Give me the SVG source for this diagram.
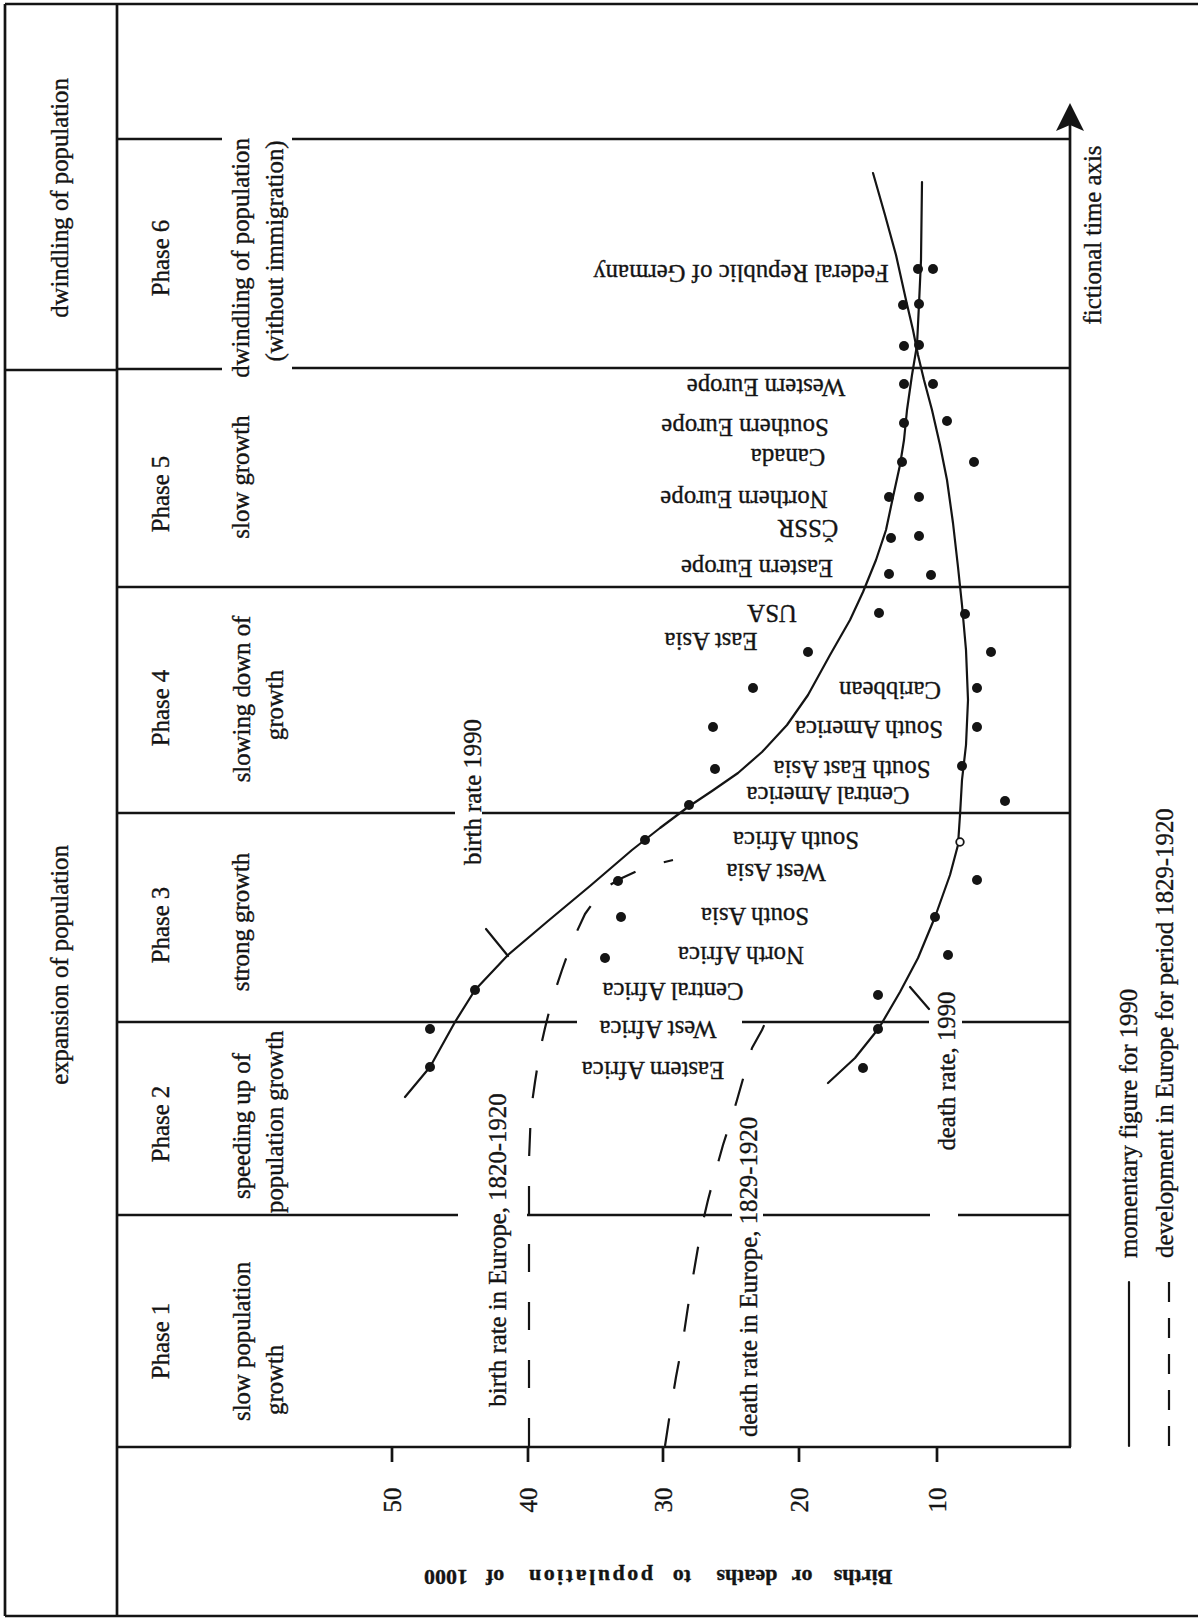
<svg xmlns="http://www.w3.org/2000/svg" width="1198" height="1619" viewBox="0 0 1198 1619">
<style>
.ln{stroke:#141414;stroke-width:2.7;fill:none}
.cv{stroke:#141414;stroke-width:2.2;fill:none;stroke-linejoin:round;stroke-linecap:round}
.ds{stroke-dasharray:28 30;stroke-linecap:butt}
.t{font-family:"Liberation Serif","Times New Roman",serif;font-size:24.8px;fill:#141414;stroke:#141414;stroke-width:0.35}
.m{text-anchor:middle}
.s{text-anchor:start}
.d{fill:#141414}
</style>
<rect width="1198" height="1619" fill="#ffffff"/>
<g id="frame">
<path class="ln" stroke-width="3" d="M5,4 H1198 M5,1616 H1198 M5,4 V1616 M117,4 V1616 M5,370 H117"/>
<path class="ln" d="M117,139 H222 M292,139 H1070 M117,369 H222 M292,368 H1070 M117,587 H1070 M117,813 H455 M482,813 H1070 M117,1022 H577 M742,1022 H929 M962,1022 H1070 M117,1215 H458 M527,1215 H732 M763,1215 H930 M958,1215 H1071 M117,1447 H1071 M1070,125 V1447"/>
<path class="d" d="M1070,103 L1084,131 L1070,125 L1056,131 Z"/>
</g>
<g id="left-labels" class="t m">
<text transform="translate(68,198) rotate(-90)">dwindling of population</text>
<text transform="translate(68,965) rotate(-90)">expansion of population</text>
</g>
<g id="phase-6" class="t m">
<text transform="translate(169,258) rotate(-90)">Phase 6</text>
<text transform="translate(249,258) rotate(-90)">dwindling of population</text>
<text transform="translate(283,251) rotate(-90)">(without immigration)</text>
</g>
<g id="phase-5" class="t m">
<text transform="translate(169,494) rotate(-90)">Phase 5</text>
<text transform="translate(249,477) rotate(-90)">slow growth</text>
</g>
<g id="phase-4" class="t m">
<text transform="translate(169,708) rotate(-90)">Phase 4</text>
<text transform="translate(250,699) rotate(-90)">slowing down of</text>
<text transform="translate(283,705) rotate(-90)">growth</text>
</g>
<g id="phase-3" class="t m">
<text transform="translate(169,925) rotate(-90)">Phase 3</text>
<text transform="translate(249,922) rotate(-90)">strong growth</text>
</g>
<g id="phase-2" class="t">
<text class="m" transform="translate(169,1124) rotate(-90)">Phase 2</text>
<text class="s" transform="translate(250,1199) rotate(-90)">speeding up of</text>
<text class="s" transform="translate(283,1213) rotate(-90)">population growth</text>
</g>
<g id="phase-1" class="t">
<text class="m" transform="translate(169,1341) rotate(-90)">Phase 1</text>
<text class="s" transform="translate(250,1421) rotate(-90)">slow population</text>
<text class="s" transform="translate(283,1415) rotate(-90)">growth</text>
</g>
<g id="axis">
<path class="ln" d="M392,1447 V1462 M528,1447 V1462 M663,1447 V1462 M799,1447 V1462 M937,1447 V1462"/>
<g class="t m">
<text transform="translate(401,1500) rotate(-90)">50</text>
<text transform="translate(537,1500) rotate(-90)">40</text>
<text transform="translate(672,1500) rotate(-90)">30</text>
<text transform="translate(808,1500) rotate(-90)">20</text>
<text transform="translate(946,1500) rotate(-90)">10</text>
<text transform="translate(1101,235) rotate(-90)">fictional time axis</text>
</g>
<g class="t m" transform="rotate(180 682 1578)" style="font-size:22px;font-weight:bold">
<text x="501" y="1586">Births</text>
<text x="562" y="1586">or</text>
<text x="617" y="1586">deaths</text>
<text x="682" y="1586">to</text>
<text x="773" y="1586" textLength="124" lengthAdjust="spacing">population</text>
<text x="869" y="1586">of</text>
<text x="918" y="1586">1000</text>
</g>
</g>
<g id="connectors">
<polyline id="birth-rate-1990" class="cv" points="922,182 921,260 919,304 917,345 912,375 907,410 904,440 900,465 893,497 886,530 876,560 863,592 850,620 830,655 808,695 787,725 762,752 738,773 712,791 688,807 660,828 632,850 590,886 548,921 508,955 475,990 455,1022 430,1067 405,1097"/>
<polyline id="death-rate-1990" class="cv" points="873,173 885,215 896,255 906,300 913,330 918,355 924,380 932,410 940,445 947,480 953,523 958,567 962,605 966,650 968,700 966,745 962,780 960,815 958,845 950,875 935,917 918,958 900,992 879,1028 855,1058 828,1083"/>
<polyline id="birth-rate-europe" class="cv ds" points="529,1446 529,1160 531,1110 535,1082 540,1050 545,1028 552,1000 562,970 572,942 585,914 603,889 622,878 648,866 673,860"/>
<polyline id="death-rate-europe" class="cv ds" points="665,1446 670,1413 676,1377 683,1340 689,1300 695,1265 701,1230 708,1200 716,1170 723,1145 731,1120 737,1100 745,1072 752,1048 762,1030 773,1005"/>
<path class="cv" d="M486,929 L508,956 M910,987 L929,1009"/>
</g>
<g id="curve-labels" class="t m">
<text transform="translate(481,792) rotate(-90)">birth rate 1990</text>
<text transform="translate(506,1250) rotate(-90)">birth rate in Europe, 1820-1920</text>
<text transform="translate(757,1277) rotate(-90)">death rate in Europe, 1829-1920</text>
<text transform="translate(955,1071) rotate(-90)">death rate, 1990</text>
</g>
<g id="data-points" class="d">
<circle cx="918" cy="269" r="5"/><circle cx="933" cy="269" r="5"/>
<circle cx="903" cy="305" r="5"/><circle cx="919" cy="304" r="5"/>
<circle cx="904" cy="346" r="5"/><circle cx="919" cy="345" r="5"/>
<circle cx="904" cy="384" r="5"/><circle cx="933" cy="384" r="5"/>
<circle cx="904" cy="423" r="5"/><circle cx="947" cy="421" r="5"/>
<circle cx="902" cy="462" r="5"/><circle cx="974" cy="462" r="5"/>
<circle cx="889" cy="497" r="5"/><circle cx="919" cy="497" r="5"/>
<circle cx="891" cy="538" r="5"/><circle cx="919" cy="536" r="5"/>
<circle cx="889" cy="574" r="5"/><circle cx="931" cy="575" r="5"/>
<circle cx="879" cy="613" r="5"/><circle cx="965" cy="614" r="5"/>
<circle cx="808" cy="652" r="5"/><circle cx="991" cy="652" r="5"/>
<circle cx="753" cy="688" r="5"/><circle cx="977" cy="688" r="5"/>
<circle cx="713" cy="727" r="5"/><circle cx="977" cy="727" r="5"/>
<circle cx="715" cy="769" r="5"/><circle cx="962" cy="766" r="5"/>
<circle cx="689" cy="805" r="5"/><circle cx="1005" cy="801" r="5"/>
<circle cx="645" cy="840" r="5"/>
<circle cx="960" cy="842" r="3.8" fill="#fff" stroke="#141414" stroke-width="1.8"/>
<circle cx="618" cy="881" r="5"/><circle cx="977" cy="880" r="5"/>
<circle cx="621" cy="917" r="5"/><circle cx="935" cy="917" r="5"/>
<circle cx="605" cy="958" r="5"/><circle cx="948" cy="955" r="5"/>
<circle cx="475" cy="990" r="5"/><circle cx="878" cy="995" r="5"/>
<circle cx="430" cy="1029" r="5"/><circle cx="878" cy="1029" r="5"/>
<circle cx="430" cy="1067" r="5"/><circle cx="863" cy="1068" r="5"/>
</g>
<g id="country-labels" class="t m">
<text transform="translate(741,273) rotate(180)" y="8">Federal Republic of Germany</text>
<text transform="translate(766,387) rotate(180)" y="8">Western Europe</text>
<text transform="translate(745,427) rotate(180)" y="8">Southern Europe</text>
<text transform="translate(788,457) rotate(180)" y="8">Canada</text>
<text transform="translate(744,499) rotate(180)" y="8">Northern Europe</text>
<text transform="translate(808,528) rotate(180)" y="8">ČSSR</text>
<text transform="translate(757,568) rotate(180)" y="8">Eastern Europe</text>
<text transform="translate(772,613) rotate(180)" y="8">USA</text>
<text transform="translate(711,641) rotate(180)" y="8">East Asia</text>
<text transform="translate(890,690) rotate(180)" y="8">Caribbean</text>
<text transform="translate(869,729) rotate(180)" y="8">South America</text>
<text transform="translate(852,769) rotate(180)" y="8">South East Asia</text>
<text transform="translate(828,795) rotate(180)" y="8">Central America</text>
<text transform="translate(796,840) rotate(180)" y="8">South Africa</text>
<text transform="translate(776,872) rotate(180)" y="8">West Asia</text>
<text transform="translate(755,916) rotate(180)" y="8">South Asia</text>
<text transform="translate(741,955) rotate(180)" y="8">North Africa</text>
<text transform="translate(673,991) rotate(180)" y="8">Central Africa</text>
<text transform="translate(658,1029) rotate(180)" y="8">West Africa</text>
<text transform="translate(653,1070) rotate(180)" y="8">Eastern Africa</text>
</g>
<g id="legend">
<path class="cv" d="M1129,1282 V1446"/>
<path class="cv" stroke-dasharray="20 16" style="stroke-linecap:butt" d="M1169,1282 V1446"/>
<g class="t s">
<text transform="translate(1137,1258) rotate(-90)">momentary figure for 1990</text>
<text transform="translate(1173,1258) rotate(-90)">development in Europe for period 1829-1920</text>
</g>
</g>
</svg>
